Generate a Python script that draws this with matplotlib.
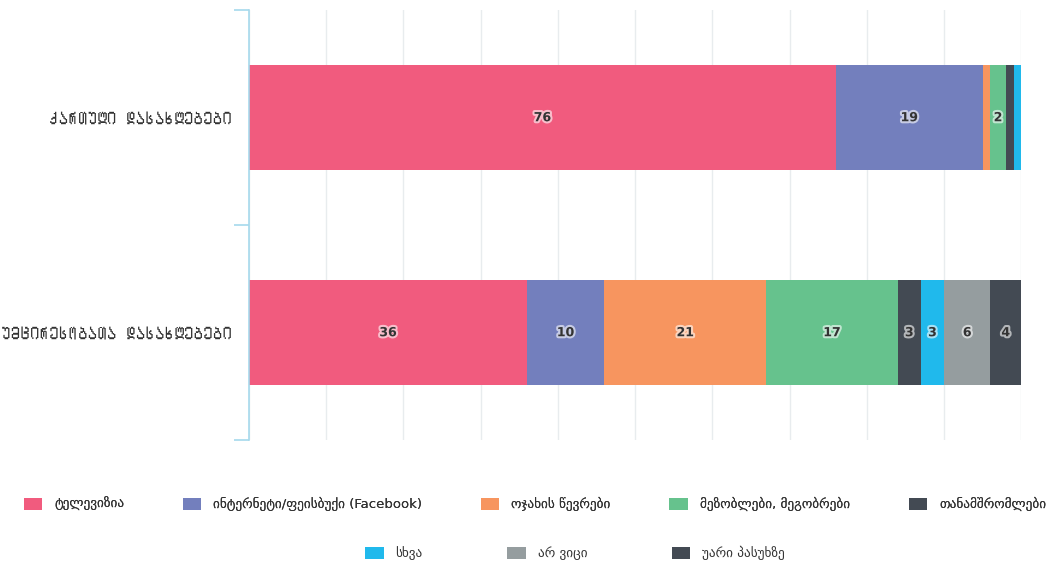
import matplotlib

matplotlib.use("Agg")
import matplotlib.pyplot as plt
import matplotlib.patheffects as pe
from matplotlib import font_manager
from matplotlib.ft2font import FT2Font
import numpy as np

categories = ["ᲥᲐᲠᲗᲣᲚᲘ ᲓᲐᲡᲐᲮᲚᲔᲑᲔᲑᲘ", "ᲣᲛᲪᲘᲠᲔᲡᲝᲑᲐᲗᲐ ᲓᲐᲡᲐᲮᲚᲔᲑᲔᲑᲘ"]
series_names = [
    "ტელევიზია",
    "ინტერნეტი/ფეისბუქი (Facebook)",
    "ოჯახის წევრები",
    "მეზობლები, მეგობრები",
    "თანამშრომლები",
    "სხვა",
    "არ ვიცი",
    "უარი პასუხზე",
]
values = [
    [76, 36],
    [19, 10],
    [1, 21],
    [2, 17],
    [1, 3],
    [1, 3],
    [0, 6],
    [0, 4],
]
colors = ["#f15b7e", "#737fbd", "#f7955f", "#66c28d", "#434a53",
          "#20b9ec", "#959d9f", "#434a53"]


def find_family(codepoint):
    """Name of an installed family that has a glyph for codepoint, or None."""
    for f in font_manager.fontManager.ttflist:
        try:
            if codepoint in FT2Font(f.fname).get_charmap():
                return f.name
        except Exception:
            continue
    return None


plt.rcParams["font.family"] = ["DejaVu Sans"]

# Georgian capitals (Mtavruli) are missing from DejaVu; use a font that has
# them, or fall back to the ordinary Mkhedruli letters.
mtav = find_family(0x1C92)
if mtav:
    label_family = [mtav, "DejaVu Sans"]
    ylabels = categories
    label_size = 13.8
else:
    label_family = ["DejaVu Sans"]
    ylabels = ["".join(chr(ord(c) - 0xBC0) if 0x1C90 <= ord(c) <= 0x1CBF else c
                       for c in s) for s in categories]
    label_size = 10

fig = plt.figure(figsize=(10.55, 5.68), dpi=100)
ax = fig.add_axes([0.236, 0.225, 0.732, 0.757])

y = np.arange(len(categories))
left = np.zeros(len(categories))
handles = []
for name, vals, col in zip(series_names, values, colors):
    vals = np.array(vals, dtype=float)
    bars = ax.barh(y, vals, left=left, height=0.49, color=col, label=name)
    handles.append(bars)
    for yi, v, l in zip(y, vals, left):
        if v >= 2:
            ax.text(l + v / 2, yi, f"{v:.0f}", ha="center", va="center",
                    fontsize=9, fontweight="bold", color="#333333",
                    path_effects=[pe.withStroke(linewidth=3, foreground="white", alpha=0.6)])
    left += vals

ax.set_xlim(0, 100)
ax.set_ylim(1.5, -0.5)
ax.set_xticks(np.arange(0, 101, 10))
ax.xaxis.grid(True, color="#e8ecee", linewidth=1)
ax.set_axisbelow(True)
ax.tick_params(axis="x", length=0, labelbottom=False)

ax.set_yticks(y)
ax.set_yticklabels(ylabels, fontsize=label_size, color="#333333", family=label_family)
ax.set_yticks([-0.5, 0.5, 1.5], minor=True)
ax.tick_params(axis="y", which="major", length=0, pad=12)
ax.tick_params(axis="y", which="minor", length=11, color="#a6d9ec", width=1.2)

for s in ["top", "right", "bottom"]:
    ax.spines[s].set_visible(False)
ax.spines["left"].set_color("#a6d9ec")
ax.spines["left"].set_linewidth(1.2)

leg_kw = dict(frameon=False, fontsize=9.5, handlelength=1.4, handleheight=1.1,
              handletextpad=0.9, labelcolor="#333333")
leg1 = fig.legend(handles[:5], series_names[:5], ncol=5, loc="center",
                  bbox_to_anchor=(0.507, 0.112), columnspacing=4.45, **leg_kw)
fig.add_artist(leg1)
fig.legend(handles[5:], series_names[5:], ncol=3, loc="center",
           bbox_to_anchor=(0.545, 0.026), columnspacing=6.4, **leg_kw)

fig.savefig("out.png", dpi=100)
